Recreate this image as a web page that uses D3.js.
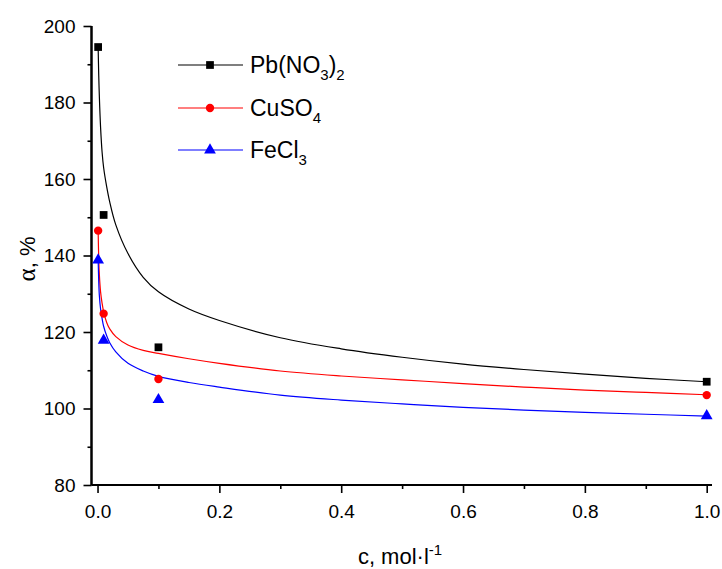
<!DOCTYPE html>
<html>
<head>
<meta charset="utf-8">
<script src="https://cdn.jsdelivr.net/npm/d3@7"></script>
<style>
html,body{margin:0;padding:0;background:#fff;}
svg{display:block;}
text{font-family:Arial,"Liberation Sans",sans-serif;fill:#000;}
</style>
</head>
<body>
<svg id="chart" width="722" height="569"></svg>
<script>
// ---- data ----
const seriesNames = ["Pb(NO3)2", "CuSO4", "FeCl3"];
const concentrations = [0.001, 0.01, 0.1, 1.0];
const pbValues = [194.5, 150.6, 116.0, 107.0];
const cuValues = [146.5, 124.8, 107.7, 103.5];
const feValues = [138.8, 117.8, 102.3, 98.1];
// fitted curves
const fitC = [0.001, 0.002, 0.003, 0.005, 0.0075, 0.01, 0.015, 0.02, 0.03, 0.05, 0.075, 0.1, 0.15, 0.2, 0.3, 0.4, 0.5, 0.6, 0.7, 0.8, 0.9, 1.0];
const pbFit = [194.5, 187, 181.5, 173.5, 167, 163, 158, 154, 148, 140.5, 134.3, 130.5, 126, 123, 118.5, 115.6, 113.4, 111.6, 110.2, 109, 107.9, 107];
const cuFit = [146.5, 139, 135, 130.5, 127.5, 125.3, 122.5, 120.8, 118.8, 116.6, 115.2, 114.4, 113.0, 111.8, 109.8, 108.5, 107.5, 106.5, 105.6, 104.8, 104.2, 103.6];
const feFit = [139, 133, 129.5, 126, 123.5, 121.5, 119, 117.2, 114.8, 111.8, 109.8, 108.4, 106.8, 105.6, 103.5, 102.2, 101.2, 100.3, 99.6, 99.0, 98.5, 98.0];
const xTicks = [0.0, 0.2, 0.4, 0.6, 0.8, 1.0];
const xMinor = [0.1, 0.3, 0.5, 0.7, 0.9];
const yTicks = [80, 100, 120, 140, 160, 180, 200];
const yMinor = [90, 110, 130, 150, 170, 190];
const colors = ["#000000", "#ff0000", "#0000ff"];
const symbols = [d3.symbolSquare, d3.symbolCircle, d3.symbolTriangle];

const svg = d3.select("#chart");
const x = d3.scaleLinear().domain([-0.0099, 1.0087]).range([91.5, 712]);
const y = d3.scaleLinear().domain([80, 200]).range([485, 26]);

// axes
const gx = svg.append("g").attr("transform", "translate(0,485)");
gx.call(d3.axisBottom(x).tickValues(xTicks).tickSize(8).tickPadding(12).tickFormat(d3.format(".1f")));
gx.append("g").call(d3.axisBottom(x).tickValues(xMinor).tickSize(4).tickFormat(""));
const gy = svg.append("g").attr("transform", "translate(91.5,0)");
gy.call(d3.axisLeft(y).tickValues(yTicks).tickSize(8).tickPadding(8).tickFormat(d3.format("d")));
gy.append("g").call(d3.axisLeft(y).tickValues(yMinor).tickSize(4).tickFormat(""));
svg.selectAll(".domain").attr("stroke", "#000").attr("stroke-width", 2);
svg.selectAll(".tick line").attr("stroke", "#000").attr("stroke-width", 1.6);
svg.selectAll(".tick text").style("font-size", "19px").style("font-family", "Arial, 'Liberation Sans', sans-serif");
gy.selectAll(".domain").attr("d", `M-0,${y(200)}V${y(80)}`);
gx.selectAll(".domain").attr("d", `M${x.range()[0]},0H${x.range()[1]}`);

// fit curves
const fits = [pbFit, cuFit, feFit];
const line = d3.line().x(d => x(d[0])).y(d => y(d[1])).curve(d3.curveCatmullRom.alpha(0.5));
fits.forEach((vals, i) => {
  svg.append("path")
    .attr("d", line(fitC.map((c, k) => [c, vals[k]])))
    .attr("fill", "none").attr("stroke", colors[i]).attr("stroke-width", 1.2);
});

// points
const vals = [pbValues, cuValues, feValues];
const sizes = [60, 55, 60];
vals.forEach((v, i) => {
  svg.append("g").selectAll("path").data(concentrations.map((c, k) => [c, v[k]])).join("path")
    .attr("transform", d => `translate(${x(d[0])},${y(d[1])})`)
    .attr("d", d3.symbol().type(symbols[i]).size(sizes[i]))
    .attr("fill", colors[i]);
});

// legend
const legY = [65, 108, 150];
const legText = [["Pb(NO", "3", ")", "2"], ["CuSO", "4"], ["FeCl", "3"]];
legY.forEach((ly, i) => {
  svg.append("line").attr("x1", 178).attr("x2", 243).attr("y1", ly).attr("y2", ly)
    .attr("stroke", colors[i]).attr("stroke-width", 1.2);
  svg.append("path").attr("transform", `translate(210,${ly})`)
    .attr("d", d3.symbol().type(symbols[i]).size(sizes[i])).attr("fill", colors[i]);
  const t = svg.append("text").attr("x", 250).attr("y", ly + 8).style("font-size", "23px");
  legText[i].forEach((s, k) => {
    const sub = k % 2 === 1;
    t.append("tspan").text(s)
      .attr("dy", sub ? 7 : (k === 0 ? 0 : -7))
      .style("font-size", sub ? "15px" : "23px");
  });
});

// axis titles
const yl = svg.append("text").attr("transform", "translate(35,259) rotate(-90)")
  .attr("text-anchor", "middle").style("font-size", "22px");
yl.append("tspan").text("α").style("font-family", "'Liberation Serif', 'DejaVu Serif', serif").style("font-size", "25px");
yl.append("tspan").text(", %");

const xl = svg.append("text").attr("x", 400).attr("y", 564).attr("text-anchor", "middle").style("font-size", "22px");
xl.append("tspan").text("c, mol·l");
xl.append("tspan").text("-1").attr("dy", -9).style("font-size", "15px");
</script>
</body>
</html>
